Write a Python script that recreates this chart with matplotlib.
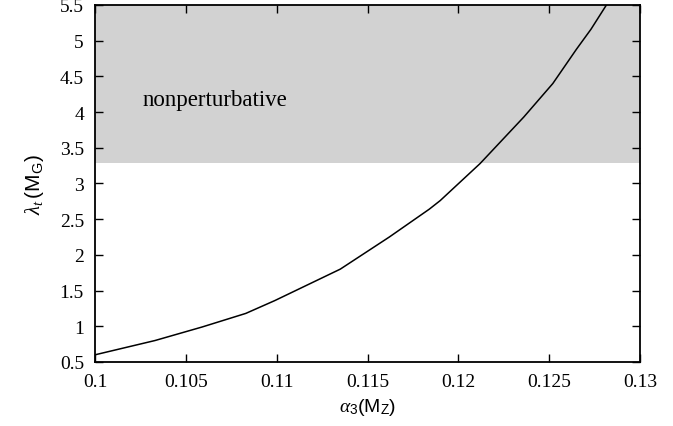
import numpy as np
import matplotlib.pyplot as plt

# curve
alpha3 = [0.1000, 0.1033, 0.1059, 0.1083, 0.1099, 0.1135, 0.1162, 0.1184,
          0.1190, 0.1212, 0.1236, 0.1252, 0.1265, 0.1273, 0.1280, 0.1282]
lam_t = [0.60, 0.80, 0.99, 1.18, 1.36, 1.80, 2.25, 2.64,
         2.76, 3.28, 3.93, 4.40, 4.88, 5.16, 5.44, 5.52]

nonpert_lo = 3.28
xticks = [0.1, 0.105, 0.11, 0.115, 0.12, 0.125, 0.13]
yticks = [0.5, 1, 1.5, 2, 2.5, 3, 3.5, 4, 4.5, 5, 5.5]

plt.rcParams['font.family'] = ['Liberation Serif', 'DejaVu Serif']
plt.rcParams['mathtext.fontset'] = 'custom'
plt.rcParams['mathtext.rm'] = 'Liberation Sans'
plt.rcParams['mathtext.it'] = 'Liberation Serif:italic'

fig = plt.figure(figsize=(6.73, 4.27), dpi=100)
ax = fig.add_axes([0.1412, 0.15, 0.8098, 0.836])

ax.axhspan(nonpert_lo, 5.5, color='#d2d2d2', lw=0, zorder=0)
ax.plot(alpha3, lam_t, color='black', lw=1.1)
ax.text(0.1026, 4.18, 'nonperturbative', fontsize=16.5, va='center')

ax.set_xlim(0.1, 0.13)
ax.set_ylim(0.5, 5.5)
ax.set_xticks(xticks)
ax.set_xticklabels([str(v) for v in xticks])
ax.set_yticks(yticks)
ax.set_yticklabels([('%g' % v) for v in yticks])
ax.tick_params(direction='in', top=True, right=True, length=6, width=1,
               labelsize=14, pad=8)
for s in ax.spines.values():
    s.set_linewidth(1.3)

ax.set_xlabel(r'$\alpha_3$(M$_\mathrm{Z}$)', fontsize=14,
              family=['Liberation Sans'], labelpad=4)
ax.set_ylabel(r'$\lambda_t\,$(M$_\mathrm{G}$)', fontsize=15,
              family=['Liberation Sans'], labelpad=10)

fig.savefig('out.png', dpi=100)
